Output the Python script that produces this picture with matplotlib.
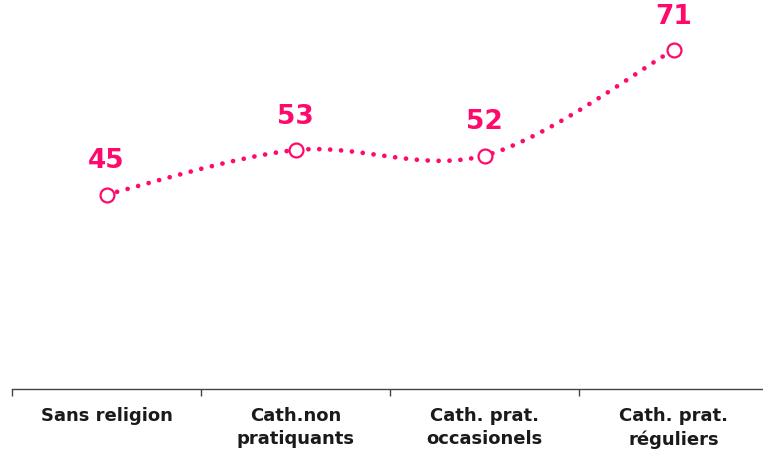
import matplotlib
matplotlib.use("Agg")
import matplotlib.pyplot as plt
from matplotlib.path import Path
from matplotlib.patches import PathPatch

categories = ["Sans religion", "Cath.non\npratiquants", "Cath. prat.\noccasionels", "Cath. prat.\nréguliers"]
values = [45, 53, 52, 71]

PINK = "#FF0A6C"

W, H = 763, 454
fig = plt.figure(figsize=(W / 100, H / 100), dpi=100)
ax = fig.add_axes([12 / W, (H - 389) / H, 756 / W, 389 / H])
ax.set_xlim(-0.5, 3.5)
ax.set_ylim(10, 80)

xs = list(range(len(values)))
pts = list(zip(xs, values))

# smooth curve (Catmull-Rom -> cubic Bezier), built from data points
verts = [pts[0]]
codes = [Path.MOVETO]
n = len(pts)
for i in range(n - 1):
    p0 = pts[i - 1] if i > 0 else pts[i]
    p1 = pts[i]
    p2 = pts[i + 1]
    p3 = pts[i + 2] if i + 2 < n else pts[i + 1]
    c1 = (p1[0] + (p2[0] - p0[0]) / 6, p1[1] + (p2[1] - p0[1]) / 6)
    c2 = (p2[0] - (p3[0] - p1[0]) / 6, p2[1] - (p3[1] - p1[1]) / 6)
    verts += [c1, c2, p2]
    codes += [Path.CURVE4] * 3
patch = PathPatch(Path(verts, codes), facecolor="none", edgecolor=PINK,
                  lw=3.4, linestyle=(0, (0.01, 2.3)), capstyle="round", zorder=2)
ax.add_patch(patch)

ax.plot(xs, values, linestyle="none", marker="o", markersize=10,
        markerfacecolor="white", markeredgecolor=PINK, markeredgewidth=1.6, zorder=3)

for x, v in zip(xs, values):
    ax.annotate(str(v), (x, v), xytext=(0, 24), textcoords="offset points",
                ha="center", va="center", color=PINK, fontsize=19, fontweight="bold")

for s in ["top", "right", "left"]:
    ax.spines[s].set_visible(False)
ax.spines["bottom"].set_color("#444444")
ax.spines["bottom"].set_linewidth(1.0)
ax.set_yticks([])
ax.set_xticks(xs)
ax.set_xticklabels(categories, fontsize=13, fontweight="bold", color="#1a1a1a",
                   linespacing=1.35)
ax.tick_params(axis="x", which="major", length=0, pad=13)
ax.set_xticks([-0.5, 0.5, 1.5, 2.5, 3.5], minor=True)
ax.tick_params(axis="x", which="minor", length=5, width=1.0, color="#444444")

fig.savefig("out.png", dpi=100)
